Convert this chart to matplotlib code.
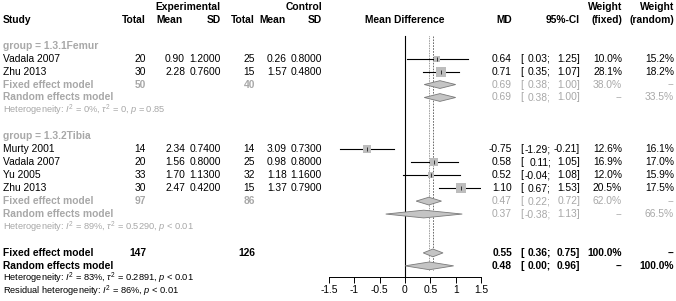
import numpy as np
import matplotlib
matplotlib.use("Agg")
import matplotlib.pyplot as plt
from matplotlib.patches import Polygon

plt.rcParams['font.family'] = ['Liberation Sans', 'DejaVu Sans']
plt.rcParams['mathtext.fontset'] = 'custom'
plt.rcParams['mathtext.rm'] = 'Liberation Sans'
plt.rcParams['mathtext.it'] = 'Liberation Sans:italic'
plt.rcParams['mathtext.bf'] = 'Liberation Sans:bold'

#%% Data
studies = ['Vadala 2007', 'Zhu 2013', 'Murty 2001', 'Vadala 2007', 'Yu 2005', 'Zhu 2013']
groups = ['Femur', 'Femur', 'Tibia', 'Tibia', 'Tibia', 'Tibia']
exp_n = [20, 30, 14, 20, 33, 30]
exp_mean = [0.90, 2.28, 2.34, 1.56, 1.70, 2.47]
exp_sd = [1.2000, 0.7600, 0.7400, 0.8000, 1.1300, 0.4200]
ctl_n = [25, 15, 14, 25, 32, 15]
ctl_mean = [0.26, 1.57, 3.09, 0.98, 1.18, 1.37]
ctl_sd = [0.8000, 0.4800, 0.7300, 0.8000, 1.1600, 0.7900]
md = [0.64, 0.71, -0.75, 0.58, 0.52, 1.10]
ci_lo = [0.03, 0.35, -1.29, 0.11, -0.04, 0.67]
ci_hi = [1.25, 1.07, -0.21, 1.05, 1.08, 1.53]
w_fixed = [10.0, 28.1, 12.6, 16.9, 12.0, 20.5]
w_random = [15.2, 18.2, 16.1, 17.0, 15.9, 17.5]

group_labels = ['group = 1.3.1Femur', 'group = 1.3.2Tibia']
group_n = [(50, 40), (97, 86)]
# subgroup summaries: (md, lo, hi) fixed, random
sub_fixed = [(0.69, 0.38, 1.00), (0.47, 0.22, 0.72)]
sub_random = [(0.69, 0.38, 1.00), (0.37, -0.38, 1.13)]
sub_wf = ['38.0%', '62.0%']
sub_wr = ['33.5%', '66.5%']
sub_het = [r'Heterogeneity: $I^2$ = 0%, $\tau^2$ = 0, $p$ = 0.85',
           r'Heterogeneity: $I^2$ = 89%, $\tau^2$ = 0.5290, $p$ < 0.01']
tot_n = (147, 126)
tot_fixed = (0.55, 0.36, 0.75)
tot_random = (0.48, 0.00, 0.96)
tot_het = r'Heterogeneity: $I^2$ = 83%, $\tau^2$ = 0.2891, $p$ < 0.01'
resid_het = r'Residual heterogeneity: $I^2$ = 86%, $p$ < 0.01'
xticks = [-1.5, -1, -0.5, 0, 0.5, 1, 1.5]

#%% Layout
W, H = 676, 301
fig = plt.figure(figsize=(W/100, H/100), dpi=100)
tx = fig.add_axes([0, 0, 1, 1])
tx.set_xlim(0, W); tx.set_ylim(H, 0); tx.axis('off')

y0, dy = 45.7, 12.95
def ry(r):
    return y0 + dy*r

grey = '#a8a8a8'
fs = 7.4
fsh = 6.7

# plot axis: -1.5..1.5 at px 329..481, vertical from px 30 to 277
px0, px1, ptop, pbot = 329, 481, 30, 277
ax = fig.add_axes([px0/W, 1-pbot/H, (px1-px0)/W, (pbot-ptop)/H])
ax.set_xlim(-1.5, 1.5)
ax.set_ylim((pbot-y0)/dy, (ptop-y0)/dy)
ax.patch.set_alpha(0)
for s in ['top', 'right', 'left']:
    ax.spines[s].set_visible(False)
ax.spines['bottom'].set_linewidth(0.7)
ax.set_yticks([])
ax.set_xticks(xticks)
ax.set_xticklabels(['%g' % v for v in xticks], fontsize=fs)
ax.tick_params(axis='x', length=4, width=0.7, pad=2)

# headers
tx.text(3, ry(-2), 'Study', fontsize=fs, fontweight='bold', va='center')
tx.text(221, ry(-3), 'Experimental', fontsize=fs, fontweight='bold', va='center', ha='right')
tx.text(322, ry(-3), 'Control', fontsize=fs, fontweight='bold', va='center', ha='right')
for xh, t in [(146, 'Total'), (183, 'Mean'), (221, 'SD'), (255, 'Total'), (286, 'Mean'), (322, 'SD')]:
    tx.text(xh, ry(-2), t, fontsize=fs, fontweight='bold', va='center', ha='right')
tx.text(405, ry(-2), 'Mean Difference', fontsize=fs, fontweight='bold', va='center', ha='center')
tx.text(512, ry(-2), 'MD', fontsize=fs, fontweight='bold', va='center', ha='right')
tx.text(580, ry(-2), '95%-CI', fontsize=fs, fontweight='bold', va='center', ha='right')
tx.text(622, ry(-3), 'Weight', fontsize=fs, fontweight='bold', va='center', ha='right')
tx.text(622, ry(-2), '(fixed)', fontsize=fs, fontweight='bold', va='center', ha='right')
tx.text(674, ry(-3), 'Weight', fontsize=fs, fontweight='bold', va='center', ha='right')
tx.text(674, ry(-2), '(random)', fontsize=fs, fontweight='bold', va='center', ha='right')

def result_text(y, m, lo, hi, wf, wr, color='black', weight='normal'):
    kw = dict(fontsize=fs, va='center', ha='right', color=color, fontweight=weight)
    tx.text(512, y, '%.2f' % m, **kw)
    tx.text(520, y, '[', fontsize=fs, va='center', ha='left', color=color, fontweight=weight)
    tx.text(551, y, '%.2f;' % lo, **kw)
    tx.text(580, y, '%.2f]' % hi, **kw)
    tx.text(622, y, wf, **kw)
    tx.text(674, y, wr, **kw)

def diamond(r, m, lo, hi):
    h = 0.3
    ax.add_patch(Polygon([[lo, r], [m, r-h], [hi, r], [m, r+h]], closed=True,
                         facecolor='#c4c4c4', edgecolor='#7a7a7a', lw=0.6, zorder=3))

rows_start = [0, 7]
for g, gname in enumerate(['Femur', 'Tibia']):
    r = rows_start[g]
    tx.text(3, ry(r), group_labels[g], fontsize=fs, fontweight='bold', color=grey, va='center')
    idx = [i for i in range(len(studies)) if groups[i] == gname]
    for k, i in enumerate(idx):
        rr = r + 1 + k
        y = ry(rr)
        tx.text(3, y, studies[i], fontsize=fs, va='center')
        for xc, v in [(146, '%d' % exp_n[i]), (185, '%.2f' % exp_mean[i]), (221, '%.4f' % exp_sd[i]),
                      (255, '%d' % ctl_n[i]), (287, '%.2f' % ctl_mean[i]), (322, '%.4f' % ctl_sd[i])]:
            tx.text(xc, y, v, fontsize=fs, va='center', ha='right')
        result_text(y, md[i], ci_lo[i], ci_hi[i], '%.1f%%' % w_fixed[i], '%.1f%%' % w_random[i])
        ax.plot([ci_lo[i], ci_hi[i]], [rr, rr], color='black', lw=0.8, zorder=2)
        side = 2.0*np.sqrt(w_fixed[i])*0.72
        ax.scatter([md[i]], [rr], marker='s', s=side**2, color='#bdbdbd', lw=0, zorder=3)
        ax.scatter([md[i]], [rr], marker='|', s=6, color='black', lw=0.5, zorder=4)
    rf = r + 1 + len(idx)
    tx.text(3, ry(rf), 'Fixed effect model', fontsize=fs, fontweight='bold', color=grey, va='center')
    tx.text(146, ry(rf), '%d' % group_n[g][0], fontsize=fs, fontweight='bold', color=grey, va='center', ha='right')
    tx.text(255, ry(rf), '%d' % group_n[g][1], fontsize=fs, fontweight='bold', color=grey, va='center', ha='right')
    result_text(ry(rf), *sub_fixed[g], sub_wf[g], '--', color=grey)
    diamond(rf, *sub_fixed[g])
    tx.text(3, ry(rf+1), 'Random effects model', fontsize=fs, fontweight='bold', color=grey, va='center')
    result_text(ry(rf+1), *sub_random[g], '--', sub_wr[g], color=grey)
    diamond(rf+1, *sub_random[g])
    tx.text(3, ry(rf+2), sub_het[g], fontsize=fsh, color=grey, va='center')

# overall
tx.text(3, ry(16), 'Fixed effect model', fontsize=fs, fontweight='bold', va='center')
tx.text(146, ry(16), '%d' % tot_n[0], fontsize=fs, fontweight='bold', va='center', ha='right')
tx.text(255, ry(16), '%d' % tot_n[1], fontsize=fs, fontweight='bold', va='center', ha='right')
result_text(ry(16), *tot_fixed, '100.0%', '--', weight='bold')
diamond(16, *tot_fixed)
tx.text(3, ry(17), 'Random effects model', fontsize=fs, fontweight='bold', va='center')
result_text(ry(17), *tot_random, '--', '100.0%', weight='bold')
diamond(17, *tot_random)
tx.text(3, ry(18), tot_het, fontsize=fsh, va='center')
tx.text(3, ry(19), resid_het, fontsize=fsh, va='center')

# reference lines
rtop = (36 - y0)/dy
ax.plot([0, 0], [rtop, (pbot-y0)/dy], color='black', lw=0.8, zorder=1)
ax.plot([tot_fixed[0]]*2, [rtop, 17.3], color='#555555', lw=0.6, ls=(0, (2, 1.5)), zorder=1)
ax.plot([tot_random[0]]*2, [rtop, 17.3], color='#555555', lw=0.6, ls=(0, (0.8, 1.2)), zorder=1)

fig.savefig('out.png', dpi=100)
